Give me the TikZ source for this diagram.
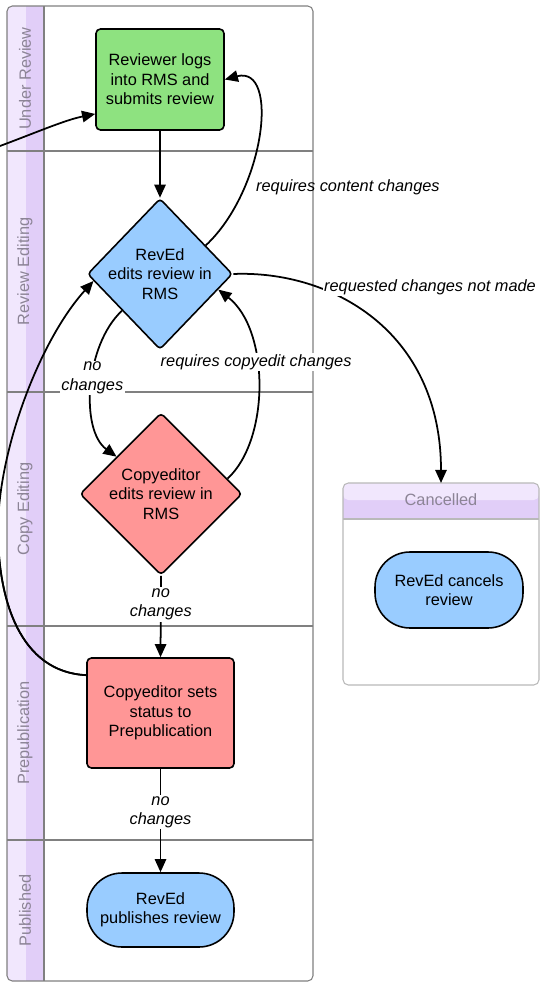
\documentclass[tikz,border=0pt]{standalone}
\usepackage{fontspec}
\setmainfont{Liberation Sans}
\usetikzlibrary{shapes.geometric}
\usetikzlibrary{arrows.meta}

\definecolor{lanegray}{RGB}{128,128,128}
\definecolor{poolgray}{RGB}{185,185,185}
\definecolor{hdrlight}{RGB}{241,231,253}
\definecolor{hdrdark}{RGB}{225,206,248}
\definecolor{lanetext}{RGB}{140,132,150}
\definecolor{taskgreen}{RGB}{142,226,128}
\definecolor{taskblue}{RGB}{153,204,255}
\definecolor{taskred}{RGB}{255,150,150}
\newcommand{\flowfont}{\fontsize{9.3}{11.1}\selectfont}

\begin{document}
\begin{tikzpicture}[x=0.02cm, y=-0.02cm]
            \tikzstyle{lane} = [draw=lanegray, line width=0.6pt]
            \tikzstyle{lanelabel} = [rotate=90, text=lanetext, font=\flowfont]
            \tikzstyle{task} = [draw, line width=0.9pt, rounded corners=2.5pt, align=center, font=\flowfont]
            \tikzstyle{decision} = [diamond, draw, line width=0.9pt, rounded corners=2pt, inner sep=0pt]
            \tikzstyle{terminal} = [draw, line width=0.9pt, rounded corners=0.7cm, align=center, font=\flowfont]
            \tikzstyle{flow} = [line width=1pt, -{Triangle[length=7.5pt, width=6.5pt]}]
            \tikzstyle{edgelabel} = [font=\flowfont\itshape, align=center, fill=white, inner sep=0.8pt]
            \useasboundingbox (0,0) rectangle (540,982);
            \clip (0,0) rectangle (540,982);
            % main pool
            \fill[white] (7,6) rectangle (313,981);
            \fill[hdrlight, rounded corners=3pt] (7,6) rectangle (30,981);
            \fill[hdrdark] (26,6) rectangle (44,981);
            \draw[lane] (44,6) -- (44,981);
            \foreach \y in {151, 392, 626, 840}
                \draw[lane] (7,\y) -- (313,\y);
            \draw[lane, rounded corners=3pt] (7,6) rectangle (313,981);
            \node[lanelabel] (laneUnder) at (25,78.5) {Under Review};
            \node[lanelabel] (laneEditing) at (25,271.5) {Review Editing};
            \node[lanelabel] (laneCopy) at (25,509) {Copy Editing};
            \node[lanelabel] (lanePrepub) at (25,733) {Prepublication};
            \node[lanelabel] (lanePublished) at (25,910.5) {Published};
            % cancelled pool
            \fill[white, rounded corners=3pt] (343,483) rectangle (539,685);
            \fill[hdrdark, rounded corners=3pt] (343,483) rectangle (539,519);
            \fill[hdrdark] (343,505) rectangle (539,519);
            \fill[hdrlight, rounded corners=3pt] (343,483) rectangle (539,500);
            \draw[draw=poolgray, line width=0.6pt, rounded corners=3pt] (343,483) rectangle (539,685);
            \draw[draw=poolgray, line width=0.6pt] (343,519) -- (539,519);
            \node[text=lanetext, font=\flowfont] (laneCancelled) at (441,500) {Cancelled};
            \coordinate (cancelTop) at (441,483);
            % steps
            \node[task, fill=taskgreen, minimum width=2.56cm, minimum height=2.02cm] (logs) at (160,79.5) {Reviewer logs\\into RMS and\\submits review};
            \node[decision, fill=taskblue, minimum width=2.9cm, minimum height=3.02cm,
                label={[name=editText, font=\flowfont, align=center]center:RevEd\\edits review in\\RMS}] (edit) at (160,274) {};
            \node[decision, fill=taskred, minimum width=3.24cm, minimum height=3.24cm,
                label={[name=checkText, font=\flowfont, align=center]center:Copyeditor\\edits review in\\RMS}] (check) at (161,494) {};
            \node[task, fill=taskred, minimum width=2.94cm, minimum height=2.2cm] (prepub) at (160.5,713) {Copyeditor sets\\status to\\Prepublication};
            \node[terminal, fill=taskblue, minimum width=2.94cm, minimum height=1.48cm] (publish) at (160.5,910) {RevEd\\publishes review};
            \node[terminal, fill=taskblue, minimum width=2.96cm, minimum height=1.52cm] (cancel) at (449,590) {RevEd cancels\\review};
            % connectors
            \draw[flow] (logs.south) -- (edit.north);
            \draw[flow] (edit.32) .. controls (265,190) and (280,65) .. (logs.east);
            \node[font=\flowfont\itshape, anchor=west] (lblContent) at (250,187) {requires content changes};
            \draw[flow] (edit.east) .. controls (330,270) and (441,330) .. (cancelTop);
            \node[edgelabel] (lblNotMade) at (430,287) {requested changes not made};
            \draw[flow] (edit.224) .. controls (85,345) and (80,430) .. (check.140) node[edgelabel, pos=0.45] (lblNoA) {no\\changes};
            \draw[flow] (check.13) .. controls (270,440) and (270,330) .. (edit.345) node[edgelabel, pos=0.6] (lblCopyedit) {requires copyedit changes};
            \draw[flow] (check.south) -- (prepub.north) node[edgelabel, pos=0.35] (lblNoB) {no\\changes};
            \draw[flow] (prepub.south) -- (publish.north) node[edgelabel, pos=0.42] (lblNoC) {no\\changes};
            \draw[flow] (prepub.153) .. controls (20,672) and (-2,600) .. (-2,530) .. controls (-2,450) and (40,340) .. (edit.186);
            \draw[flow] (prepub.153) .. controls (20,672) and (-2,600) .. (-2,530) .. controls (-4,350) and (-50,175) .. (0,146) .. controls (35,133) and (65,120) .. (logs.208);
\end{tikzpicture}
\end{document}
